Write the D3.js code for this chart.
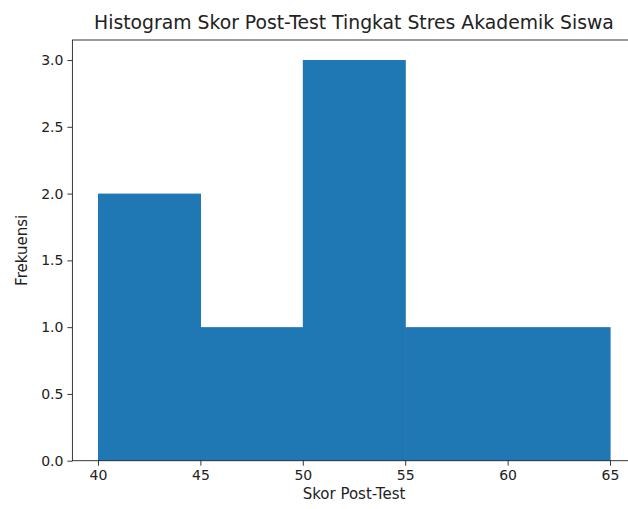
<!DOCTYPE html>
<html>
<head>
<meta charset="utf-8">
<script src="https://cdn.jsdelivr.net/npm/d3@7"></script>
<style>
  body { margin: 0; background: #fff; }
  text { font-family: "DejaVu Sans", sans-serif; fill: #222; }
</style>
</head>
<body>
<svg width="628" height="509"></svg>
<script>
var svg = d3.select('svg');

// histogram bins (edges) and counts
var binStart = [40, 45, 50, 55, 60];
var binEnd = [45, 50, 55, 60, 65];
var counts = [2, 1, 3, 1, 1];
var xTicks = [40, 45, 50, 55, 60, 65];
var yTicks = [0, 0.5, 1.0, 1.5, 2.0, 2.5, 3.0];

var mLeft = 72.4, mRight = 635.6, mTop = 40, mBottom = 460.7;

var x = d3.scaleLinear().domain([38.75, 66.25]).range([mLeft, mRight]);
var y = d3.scaleLinear().domain([0, 3.15]).range([mBottom, mTop]);

var bins = binStart.map(function(s, i) {
    return {x0: s, x1: binEnd[i], n: counts[i]};
});

svg.selectAll('rect.bar')
    .data(bins)
    .enter()
    .append('rect')
    .attr('class', 'bar')
    .attr('x', function(d) { return x(d.x0); })
    .attr('y', function(d) { return y(d.n); })
    .attr('width', function(d) { return x(d.x1) - x(d.x0) + 0.6; })
    .attr('height', function(d) { return y(0) - y(d.n); })
    .attr('fill', '#1f77b4');

// axes
var xAxis = svg.append('g')
    .attr('transform', 'translate(0,' + mBottom + ')')
    .call(d3.axisBottom(x).tickValues(xTicks).tickSize(5).tickPadding(4).tickFormat(d3.format('d')));
var yAxis = svg.append('g')
    .attr('transform', 'translate(' + mLeft + ',0)')
    .call(d3.axisLeft(y).tickValues(yTicks).tickSize(5).tickPadding(4).tickFormat(d3.format('.1f')));

[xAxis, yAxis].forEach(function(a) {
    a.select('.domain').remove();
    a.selectAll('line').attr('stroke', '#222').attr('stroke-width', 0.9);
    a.selectAll('text').style('font-size', '14px').attr('fill', '#333')
        .style('font-family', '"DejaVu Sans", sans-serif');
});

// spines
svg.append('rect')
    .attr('x', mLeft).attr('y', mTop)
    .attr('width', mRight - mLeft).attr('height', mBottom - mTop)
    .attr('fill', 'none').attr('stroke', '#222').attr('stroke-width', 0.9);

svg.append('text')
    .attr('x', (mLeft + mRight) / 2).attr('y', 29)
    .attr('text-anchor', 'middle')
    .style('font-size', '18.8px')
    .text('Histogram Skor Post-Test Tingkat Stres Akademik Siswa');

svg.append('text')
    .attr('x', (mLeft + mRight) / 2).attr('y', 499)
    .attr('text-anchor', 'middle')
    .style('font-size', '15px')
    .text('Skor Post-Test');

svg.append('text')
    .attr('transform', 'translate(27,' + ((mTop + mBottom) / 2) + ') rotate(-90)')
    .attr('text-anchor', 'middle')
    .style('font-size', '15px')
    .text('Frekuensi');
</script>
</body>
</html>
